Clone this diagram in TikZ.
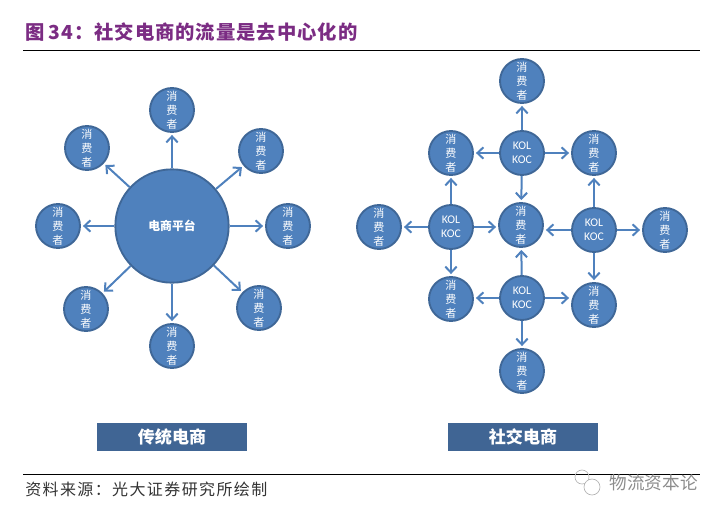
\documentclass[tikz,border=0pt]{standalone}
\usepackage{fontspec}
\setmainfont{Noto Sans CJK SC}
\newfontfamily\labelfont{Carlito}
\usetikzlibrary{arrows.meta, positioning}
\definecolor{myblue}{HTML}{4F81BD}
\definecolor{myborder}{HTML}{3F6797}
\definecolor{mybanner}{HTML}{406594}
\definecolor{mypurple}{HTML}{7B2C83}
\tikzset{
	buyernode/.style={
			circle,
			draw=myborder,
			fill=myblue,
			line width=1.4pt,
			minimum size=33pt,
			inner sep=0pt,
			text=white,
			align=center,
			font=\fontsize{8.3}{10.5}\selectfont
		},
	kolnode/.style={
			buyernode,
			font=\labelfont\fontsize{8.8}{10.5}\selectfont
		},
	hubnode/.style={
			buyernode,
			minimum size=85pt,
			font=\fontsize{8.9}{10}\selectfont\bfseries
		},
	bannernode/.style={
			fill=mybanner,
			text=white,
			minimum width=112pt,
			minimum height=21pt,
			inner sep=0pt,
			font=\fontsize{12.8}{14}\selectfont\bfseries
		},
	flow/.style={
			draw=myblue,
			line width=1.5pt,
			-{Straight Barb[length=4.5pt,width=8.5pt]},
			shorten >=1.5pt
		},
	rulerline/.style={
			draw=black,
			line width=0.8pt
		}
}
\begin{document}
\begin{tikzpicture}[x=0.75pt, y=-0.75pt]
\useasboundingbox (0,0) rectangle (721,515);

% header and footer
\node[anchor=west, inner sep=0pt, text=mypurple, font=\fontsize{14.5}{16}\selectfont\bfseries\addfontfeature{LetterSpace=5}] (title) at (25,32) {图\hspace{-1pt} 34：社交电商的流量是去中心化的};
\coordinate (t1) at (23,50.5);
\coordinate (t2) at (700,50.5);
\draw[rulerline] (t1) -- (t2);
\coordinate (b1) at (23,474.5);
\coordinate (b2) at (700,474.5);
\draw[rulerline] (b1) -- (b2);
\node[anchor=west, inner sep=0pt, font=\fontsize{12}{14}\selectfont\addfontfeature{LetterSpace=8.7}, text=black!80] (source) at (25,489) {资料来源：光大证券研究所绘制};
\node[anchor=east, inner sep=0pt, font=\fontsize{13.2}{15}\selectfont, text=black!45] (mark) at (698,483) {物流资本论};
\draw[black!30, line width=0.5pt] (582,477) circle (7);
\draw[black!30, fill=white, line width=0.5pt] (592,487) circle (8);

% traditional
\node[hubnode] (hub) at (172,226) {电商平台};
\foreach \name/\x/\y in {a1/172/110, a2/87/148, a3/261/151, a4/58/226, a5/288/226, a6/86/309, a7/259/308, a8/172/346} {
	\node[buyernode] (\name) at (\x,\y) {消\\费\\者};
	\draw[flow] (hub) -- (\name);
}
\node[bannernode] (left) at (172,437) {传统电商};

% social
\node[buyernode] (c1) at (522,81) {消\\费\\者};
\node[buyernode] (c2) at (451,153) {消\\费\\者};
\node[buyernode] (c3) at (594,153) {消\\费\\者};
\node[buyernode] (c4) at (379,227) {消\\费\\者};
\node[buyernode] (c5) at (521,225) {消\\费\\者};
\node[buyernode] (c6) at (665,230) {消\\费\\者};
\node[buyernode] (c7) at (451,299) {消\\费\\者};
\node[buyernode] (c8) at (594,305) {消\\费\\者};
\node[buyernode] (c9) at (522,371) {消\\费\\者};

\node[kolnode] (k1) at (522,153) {KOL\\KOC};
\node[kolnode] (k2) at (451,227) {KOL\\KOC};
\node[kolnode] (k3) at (594,230) {KOL\\KOC};
\node[kolnode] (k4) at (522,298) {KOL\\KOC};

\foreach \from/\to in {k1/c1, k1/c5, k2/c2, k2/c7, k3/c3, k3/c8, k4/c5, k4/c9} {
	\draw[flow] (\from) -- (\to);
}
% level arrows
\foreach \from/\to/\side in {k1/c2/east, k1/c3/west, k2/c4/east, k2/c5/west, k3/c5/east, k3/c6/west, k4/c7/east, k4/c8/west} {
	\draw[flow] (\from) -- (\from -| \to.\side);
}
\node[bannernode] (right) at (523,437) {社交电商};
\end{tikzpicture}
\end{document}
